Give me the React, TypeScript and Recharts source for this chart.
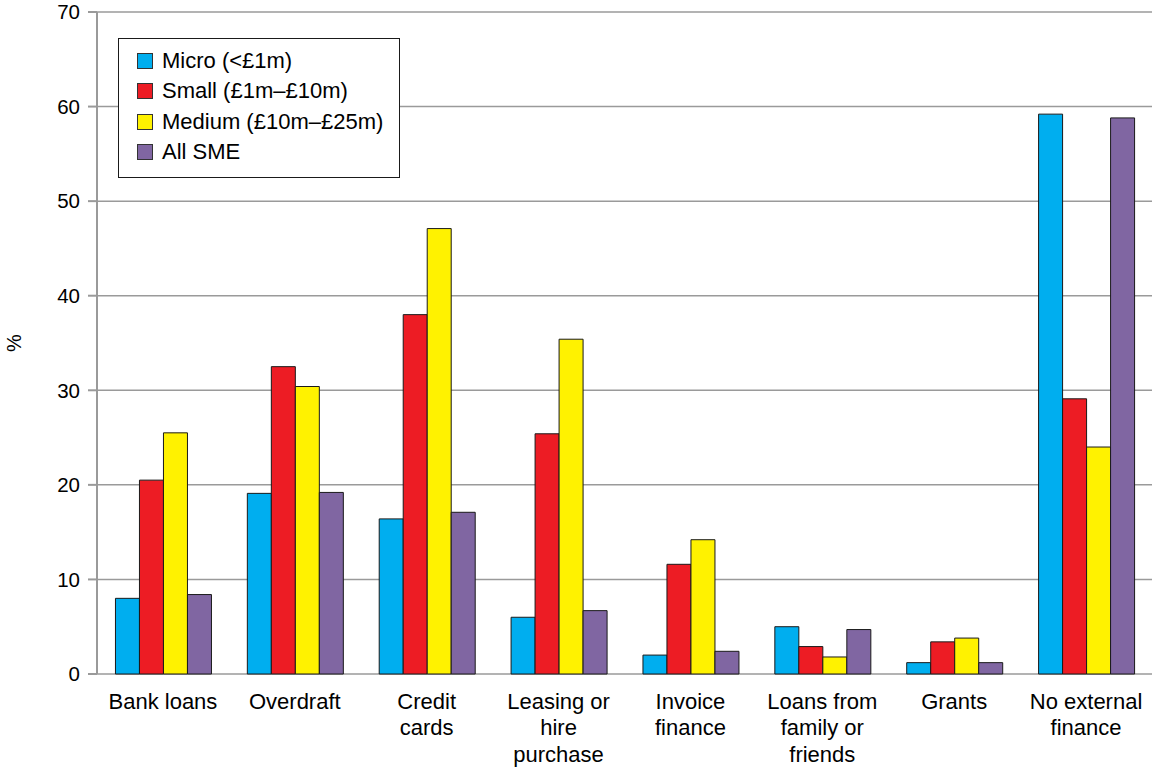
import { Bar, BarChart, CartesianGrid, Label, XAxis, YAxis } from "recharts";

const categories = [
  "Bank loans",
  "Overdraft",
  "Credit cards",
  "Leasing or hire purchase",
  "Invoice finance",
  "Loans from family or friends",
  "Grants",
  "No external finance",
];
const tickLines = [
  ["Bank loans"],
  ["Overdraft"],
  ["Credit", "cards"],
  ["Leasing or", "hire", "purchase"],
  ["Invoice", "finance"],
  ["Loans from", "family or", "friends"],
  ["Grants"],
  ["No external", "finance"],
];
const micro = [8.0, 19.1, 16.4, 6.0, 2.0, 5.0, 1.2, 59.2];
const small = [20.5, 32.5, 38.0, 25.4, 11.6, 2.9, 3.4, 29.1];
const medium = [25.5, 30.4, 47.1, 35.4, 14.2, 1.8, 3.8, 24.0];
const allSme = [8.4, 19.2, 17.1, 6.7, 2.4, 4.7, 1.2, 58.8];
const yTicks = [0, 10, 20, 30, 40, 50, 60, 70];
const edgeTicks = [0, 1, 2, 3, 4, 5, 6, 7, 8];

const series = [
  { key: "micro", name: "Micro (<£1m)", color: "#00aeef" },
  { key: "small", name: "Small (£1m–£10m)", color: "#ed1c24" },
  { key: "medium", name: "Medium (£10m–£25m)", color: "#fff200" },
  { key: "all", name: "All SME", color: "#8066a2" },
];

const data = categories.map((name, i) => ({
  name,
  micro: micro[i],
  small: small[i],
  medium: medium[i],
  all: allSme[i],
}));

const FONT = "'Liberation Sans', Arial, sans-serif";

function CategoryTick({ x, y, payload }: any) {
  const lines = tickLines[categories.indexOf(payload.value)] || [payload.value];
  return (
    <text x={x} y={y} textAnchor="middle" fill="#000" fontSize={22} fontFamily={FONT}>
      {lines.map((l, i) => (
        <tspan key={i} x={x} dy={i === 0 ? 34.5 : 26.5}>
          {l}
        </tspan>
      ))}
    </text>
  );
}

export default function App() {
  return (
    <div style={{ position: "absolute", left: 0, top: 0, width: 1153, height: 767, fontFamily: FONT, background: "#fff" }}>
      <BarChart
        width={1153}
        height={767}
        data={data}
        margin={{ top: 12, right: 1, bottom: 0, left: 0 }}
        barCategoryGap="14%"
        barGap={0}
      >
        <CartesianGrid vertical={false} stroke="#9a9a9a" strokeWidth={1.5} />
        <XAxis
          xAxisId="edges"
          type="number"
          domain={[0, 8]}
          ticks={edgeTicks}
          allowDataOverflow
          height={0}
          tick={false}
          axisLine={{ stroke: "#9a9a9a", strokeWidth: 2 }}
          tickLine={{ stroke: "#9a9a9a", strokeWidth: 2 }}
          tickSize={9}
        />
        <XAxis
          dataKey="name"
          height={93}
          axisLine={false}
          tickLine={false}
          tickSize={0}
          tickMargin={0}
          interval={0}
          tick={<CategoryTick />}
        />
        <YAxis
          width={97}
          domain={[0, 70]}
          ticks={yTicks}
          axisLine={{ stroke: "#9a9a9a", strokeWidth: 2 }}
          tickLine={{ stroke: "#9a9a9a", strokeWidth: 2 }}
          tickSize={9}
          tickMargin={8}
          tick={{ fill: "#000", fontSize: 20.5, fontFamily: FONT }}
        >
          <Label
            content={({ viewBox }: any) => (
              <text
                x={viewBox.x + 14}
                y={viewBox.y + viewBox.height / 2}
                textAnchor="middle"
                dominantBaseline="central"
                fontSize={20}
                fontFamily={FONT}
                fill="#000"
                transform={`rotate(-90 ${viewBox.x + 14} ${viewBox.y + viewBox.height / 2})`}
              >
                %
              </text>
            )}
          />
        </YAxis>
        {series.map((s) => (
          <Bar
            key={s.key}
            dataKey={s.key}
            name={s.name}
            fill={s.color}
            stroke="#1a1a1a"
            strokeWidth={1}
            isAnimationActive={false}
          />
        ))}
      </BarChart>
      <div
        style={{
          position: "absolute",
          left: 118,
          top: 38,
          width: 282,
          height: 140,
          boxSizing: "border-box",
          border: "1px solid #1a1a1a",
          background: "#fff",
          padding: "7px 0 0 18px",
        }}
      >
        {series.map((s) => (
          <div key={s.key} style={{ display: "flex", alignItems: "center", height: 30.3, fontSize: 22, color: "#000", whiteSpace: "nowrap" }}>
            <span
              style={{
                display: "inline-block",
                width: 16,
                height: 16,
                flex: "none",
                boxSizing: "border-box",
                background: s.color,
                border: "1px solid #333",
                marginRight: 9,
              }}
            />
            {s.name}
          </div>
        ))}
      </div>
    </div>
  );
}
